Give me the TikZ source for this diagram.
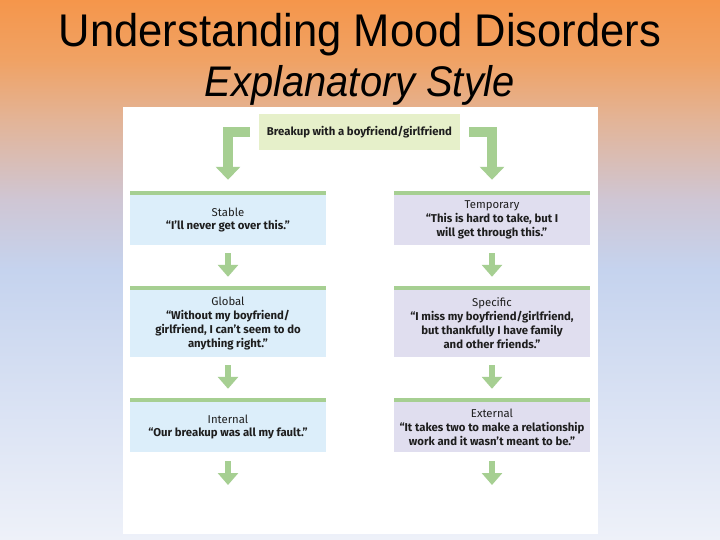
\documentclass[tikz,border=0pt]{standalone}
\usepackage{fontspec}
\setmainfont{Liberation Sans}
\newfontfamily\boxfont{Fira Sans}
\usetikzlibrary{arrows.meta}
\definecolor{bgA}{RGB}{245,150,75}
\definecolor{bgB}{RGB}{240,162,100}
\definecolor{bgC}{RGB}{227,180,151}
\definecolor{bgD}{RGB}{207,198,212}
\definecolor{bgE}{RGB}{197,211,238}
\definecolor{bgF}{RGB}{238,241,249}
\definecolor{arrowcol}{RGB}{166,207,146}
\definecolor{barcol}{RGB}{166,207,146}
\definecolor{topfill}{RGB}{230,240,202}
\definecolor{leftfill}{RGB}{220,238,250}
\definecolor{rightfill}{RGB}{224,222,239}
\definecolor{txt}{RGB}{30,30,30}
\begin{document}
\begin{tikzpicture}[x=1bp,y=-1bp,
  box/.style={minimum width=196bp, inner sep=0pt, align=center, text=txt,
    font=\boxfont\fontsize{11.4}{14}\selectfont},
  lbox/.style={box, fill=leftfill},
  rbox/.style={box, fill=rightfill},
  topbox/.style={fill=topfill, minimum width=201bp, minimum height=36bp, inner sep=0pt, text=txt,
    font=\boxfont\fontsize{11.4}{14}\selectfont},
  elbow/.style={draw=arrowcol, line width=10bp, -{Triangle[width=24bp,length=13bp]}},
  smallarrow/.style={draw=arrowcol, line width=6bp, -{Triangle[width=20bp,length=12bp]}},
  titlefont/.style={font=\fontsize{46}{50}\selectfont, xscale=0.95, inner sep=0pt, anchor=base},
  subfont/.style={font=\itshape\fontsize{43}{48}\selectfont, xscale=0.93, inner sep=0pt, anchor=base}
]
\useasboundingbox (0,0) rectangle (720,540);
% background gradient
\shade[top color=bgA, bottom color=bgB] (0,0) rectangle (720,60);
\shade[top color=bgB, bottom color=bgC] (0,60) rectangle (720,120);
\shade[top color=bgC, bottom color=bgD] (0,120) rectangle (720,200);
\shade[top color=bgD, bottom color=bgE] (0,200) rectangle (720,270);
\shade[top color=bgE, bottom color=bgF] (0,270) rectangle (720,540);
% titles
\node[titlefont] (title) at (360,47) {Understanding Mood Disorders};
\node[subfont] (subtitle) at (360,97) {Explanatory Style};
% white panel
\fill[white] (123,107) rectangle (598,534);
% boxes
\node[topbox] (top) at (359.5,132) {\bfseries Breakup with a boyfriend/girlfriend};
\node[lbox, minimum height=50bp] (stable) at (228,220) {Stable\\\bfseries “I’ll never get over this.”};
\node[lbox, minimum height=67bp] (global) at (228,323.5) {Global\\\bfseries “Without my boyfriend/\\\bfseries girlfriend, I can’t seem to do\\\bfseries anything right.”};
\node[lbox, minimum height=50bp] (internal) at (228,427) {Internal\\\bfseries “Our breakup was all my fault.”};
\node[rbox, minimum height=50bp] (temporary) at (492,220) {Temporary\\\bfseries “This is hard to take, but I\\\bfseries will get through this.”};
\node[rbox, minimum height=67bp] (specific) at (492,323.5) {Specific\\\bfseries “I miss my boyfriend/girlfriend,\\\bfseries but thankfully I have family\\\bfseries and other friends.”};
\node[rbox, minimum height=50bp] (external) at (492,427) {External\\\bfseries “It takes two to make a relationship\\\bfseries work and it wasn’t meant to be.”};
% green top bars
\foreach \n in {stable,global,internal,temporary,specific,external}
  \fill[barcol] (\n.north west) rectangle ([yshift=4bp]\n.north east);
% connectors
\draw[elbow, shorten <=9bp, shorten >=15bp] (top.west) -| (stable.north);
\draw[elbow, shorten <=9bp, shorten >=15bp] (top.east) -| (temporary.north);
\draw[smallarrow, shorten <=8bp, shorten >=13bp] (stable.south) -- (global.north);
\draw[smallarrow, shorten <=8bp, shorten >=13bp] (global.south) -- (internal.north);
\draw[smallarrow, shorten <=8bp, shorten >=13bp] (temporary.south) -- (specific.north);
\draw[smallarrow, shorten <=8bp, shorten >=13bp] (specific.south) -- (external.north);
\coordinate (lend) at (228,485);
\coordinate (rend) at (492,485);
\draw[smallarrow, shorten <=9bp] (internal.south) -- (lend);
\draw[smallarrow, shorten <=9bp] (external.south) -- (rend);
\end{tikzpicture}
\end{document}
